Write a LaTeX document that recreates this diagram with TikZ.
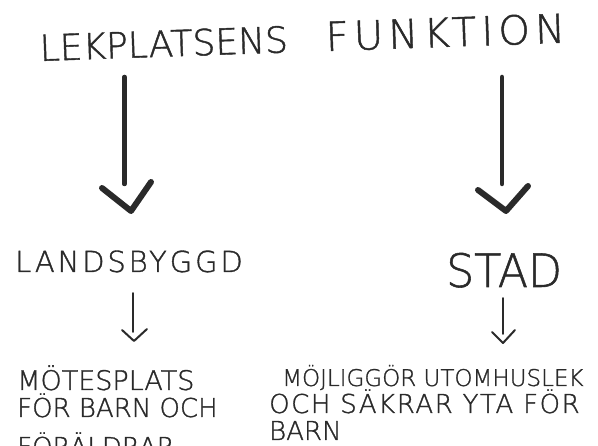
\documentclass[tikz,border=0pt]{standalone}
\usepackage{fontspec}
\newfontfamily\hand[FakeBold=1.2]{DejaVu Sans ExtraLight}
\definecolor{ink}{HTML}{2A2A2A}
\begin{document}
\begin{tikzpicture}[x=1pt,y=-1pt,
  txt/.style={text=ink,inner sep=0pt,font=\hand,anchor=base west},
  bigshaft/.style={draw=ink,line width=4.5pt,line cap=round},
  bighead/.style={draw=ink,line width=6pt,line cap=round,line join=round},
  smallshaft/.style={draw=ink,line width=1.8pt,line cap=round},
  smallhead/.style={draw=ink,line width=2pt,line cap=round,line join=round}]
\useasboundingbox (0,0) rectangle (598,446);
% title
\node[txt,rotate=2] (title) at (40,61) {\fontsize{36}{36}\selectfont LEKPLATSENS\hspace{38pt}{\fontsize{40}{40}\selectfont\addfontfeature{LetterSpace=13}FUNKTION}};
% level two
\node[txt] (land) at (15,272) {\fontsize{29}{29}\selectfont\addfontfeature{LetterSpace=10}LANDSBYGGD};
\node[txt] (stad) at (446,287) {\fontsize{46}{46}\selectfont\scalebox{0.96}[1]{STAD}};
% big arrows
\coordinate (l1) at (124.5,77);
\coordinate (l2) at (124.5,184);
\coordinate (lha) at (102,188);
\coordinate (lhb) at (131,211);
\coordinate (lhc) at (151,182);
\draw[bigshaft] (l1) -- (l2);
\draw[bighead] (lha) -- (lhb) -- (lhc);
\coordinate (r1) at (502,77);
\coordinate (r2) at (502,184);
\coordinate (rha) at (478,190);
\coordinate (rhb) at (506,211);
\coordinate (rhc) at (528,186);
\draw[bigshaft] (r1) -- (r2);
\draw[bighead] (rha) -- (rhb) -- (rhc);
% small arrows
\coordinate (s1) at (133,293);
\coordinate (s2) at (133,332);
\coordinate (sha) at (122,330);
\coordinate (shb) at (134,341);
\coordinate (shc) at (147,329);
\draw[smallshaft] (s1) -- (s2);
\draw[smallhead] (sha) -- (shb) -- (shc);
\coordinate (t1) at (503,298);
\coordinate (t2) at (503,334);
\coordinate (tha) at (492,332);
\coordinate (thb) at (503,343);
\coordinate (thc) at (515,330);
\draw[smallshaft] (t1) -- (t2);
\draw[smallhead] (tha) -- (thb) -- (thc);
% bottom texts
\node[txt] (b1) at (17,390) {\fontsize{27}{27}\selectfont MÖTESPLATS};
\node[txt] (b2) at (17,417) {\fontsize{26}{26}\selectfont FÖR BARN OCH};
\node[txt] (b3) at (17,456) {\fontsize{26}{26}\selectfont FÖRÄLDRAR};
\node[txt] (c1) at (282,386) {\fontsize{23}{23}\selectfont MÖJLIGGÖR UTOMHUSLEK};
\node[txt] (c2) at (269,413) {\fontsize{26}{26}\selectfont\addfontfeature{LetterSpace=6}OCH SÄKRAR YTA FÖR};
\node[txt] (c3) at (269,440) {\fontsize{26}{26}\selectfont BARN};
\end{tikzpicture}
\end{document}
